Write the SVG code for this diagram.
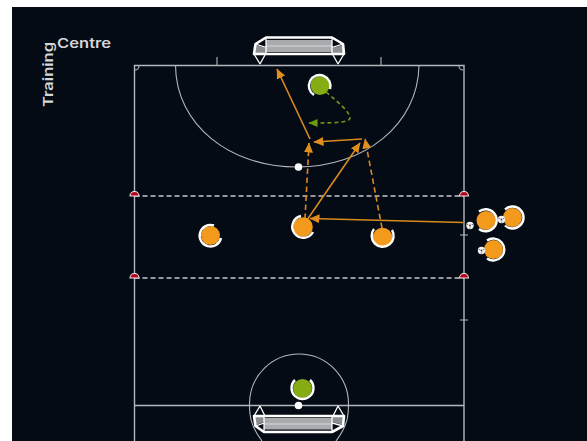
<svg xmlns="http://www.w3.org/2000/svg" width="587" height="441" viewBox="0 0 587 441">
<style>
.l{fill:none;stroke:#b4b7bb;stroke-width:1.4}
.a{fill:none;stroke:#b4b7bb;stroke-width:1.1}
.d{fill:none;stroke:#c4c6c9;stroke-width:1.5;stroke-dasharray:5 3}
.o{fill:none;stroke:#d98a1f;stroke-width:1.6}
.od{fill:none;stroke:#d98a1f;stroke-width:1.6;stroke-dasharray:5.500 3.500}
.g{fill:none;stroke:#6e9a14;stroke-width:1.6;stroke-dasharray:4 3}
.ring{fill:none;stroke:#fff;stroke-width:2.400}
.po{fill:#f39a1c}
.pg{fill:#86ac14}
.t{font-family:"Inter","Liberation Sans",sans-serif;font-weight:600;font-size:13.500px;fill:#d4d6d8}
.net{fill:#a9abae}
.side{fill:#8a8d91}
.gf{fill:none;stroke:#fff;stroke-width:2.600;stroke-linejoin:round}
.gi{fill:none;stroke:#fff;stroke-width:1.300}
.cone{fill:#b8001a;stroke:#e8e8e8;stroke-width:1.100}
.ball{fill:#f2f2f2}
.bd{fill:#4a4d52}
</style>
<defs>
<marker id="ao" markerWidth="11" markerHeight="9" refX="9.500" refY="4.500" orient="auto" markerUnits="userSpaceOnUse"><path d="M0 0L10 4.500L0 9Z" fill="#e08e1e"/></marker>
<marker id="ag" markerWidth="10" markerHeight="9" refX="8.500" refY="4" orient="auto" markerUnits="userSpaceOnUse"><path d="M0 0L9 4L0 8Z" fill="#6e9a14"/></marker>
<g id="b"><circle class="ball" r="3.700"/><circle class="bd" r="1"/><circle class="bd" cx="-2.300" cy="-1" r=".6"/><circle class="bd" cx="2.300" cy="-1" r=".6"/><circle class="bd" cy="2.500" r=".6"/></g>
</defs>
<rect x="12" y="7" width="575" height="434" fill="#050b15"/>
<text class="t" x="57" y="47.500" textLength="54" lengthAdjust="spacingAndGlyphs">Centre</text>
<text class="t" transform="translate(53,107) rotate(-90)" textLength="65" lengthAdjust="spacingAndGlyphs">Training</text>
<g id="pitch">
<path class="l" d="M134.500 441V65.500H464V441M134.500 405.500H464"/>
<path class="a" d="M217 57V65.500M381 57V65.500M460 235H468M460 320H468"/>
<path class="a" d="M175.500 65.500C176 125 230 167 297 167C364 167 418 125 419 65.500"/>
<path class="a" d="M135 70A4 4 0 0 0 139 66M459 66A4 4 0 0 0 463 70"/>
<path class="a" d="M262 441C250 425 249.500 415 249.500 404A49.500 50 0 0 1 348.500 404C348.500 415 348 425 336 441"/>
<path class="d" d="M134.500 196H464M134.500 278H464"/>
</g>
<g id="goal-top">
<path class="side" d="M256 45L266 48V53H255ZM343 45L332 48V53H344Z"/>
<path class="net" d="M266 40H332V45H266ZM266 47H332V52H266Z"/>
<path class="gf" d="M254 54L255.500 44L266 37.500H332L343 44L344 54Z"/>
<path class="gi" d="M255.500 44L266 47.500V54M343 44L332 47.500V54M266 37.500V54M332 37.500V54M266 46H332M254 54L260 64M344 54L338 64M265 55L260 64M333 55L338 64"/>
</g>
<g id="goal-bottom">
<path class="side" d="M256 425L264 422V417H255ZM343 425L332 422V417H344Z"/>
<path class="net" d="M264 418H332V423H264ZM264 425H332V429.500H264Z"/>
<path class="gf" d="M254 416L255.500 426L264 432H332L343 426L344 416Z"/>
<path class="gi" d="M255.500 426L264 423V416M343 426L332 423V416M264 432V416M332 432V416M264 424H332M254 416L260 406M344 416L338 406M265 416L260 406M333 416L338 406"/>
</g>
<g id="cones">
<path class="cone" d="M130 196A4.500 4.500 0 0 1 139 196Z"/>
<path class="cone" d="M459.500 196A4.500 4.500 0 0 1 468.500 196Z"/>
<path class="cone" d="M130 278A4.500 4.500 0 0 1 139 278Z"/>
<path class="cone" d="M459.500 278A4.500 4.500 0 0 1 468.500 278Z"/>
</g>
<g id="spots">
<circle cx="298.500" cy="167" r="3.800" fill="#fff"/>
<circle cx="298.500" cy="405.500" r="3.800" fill="#fff"/>
</g>
<g id="connectors">
<path class="o" marker-end="url(#ao)" d="M310 139L277 69"/>
<path class="o" marker-end="url(#ao)" d="M362 139L314 142"/>
<path class="o" marker-end="url(#ao)" d="M307 220L360 143"/>
<path class="o" marker-end="url(#ao)" d="M463 222.500L310 218.500"/>
<path class="od" marker-end="url(#ao)" d="M305 219L309 143"/>
<path class="od" marker-end="url(#ao)" d="M382 228L365 139"/>
<path class="g" marker-end="url(#ag)" d="M326 92C338 102 350 112 350 118C350 123 330 123 309 123"/>
</g>
<g id="player-gk-top"><circle class="pg" cx="320" cy="85.500" r="9.500"/><path class="ring" d="M314 95A10.800 10.800 0 1 1 330 89"/></g>
<g id="player-gk-bottom"><circle class="pg" cx="302.500" cy="388.500" r="9.500"/><path class="ring" d="M310 380A11 11 0 1 1 295 380"/></g>
<g id="player-1"><circle class="po" cx="210.500" cy="235.500" r="9.500"/><path class="ring" d="M221 238A10.800 10.800 0 1 1 214 225.500"/></g>
<g id="player-2"><circle class="po" cx="303" cy="227" r="9.800"/><path class="ring" d="M301 216A11 11 0 1 0 313 232"/></g>
<g id="player-3"><circle class="po" cx="382.500" cy="237.500" r="9.800"/><path class="ring" d="M374 229A11 11 0 1 0 392 230"/></g>
<g id="player-4"><circle class="po" cx="486" cy="220.500" r="9.500"/><path class="ring" d="M479 211.500A11 11 0 1 1 479 229"/><use href="#b" x="470" y="225.500"/></g>
<g id="player-5"><circle class="po" cx="512.500" cy="217.500" r="9.500"/><path class="ring" d="M505 209.500A11 11 0 1 1 505 225.500"/><use href="#b" x="501.500" y="219.500"/></g>
<g id="player-6"><circle class="po" cx="493.500" cy="249.500" r="9.500"/><path class="ring" d="M487 240.500A11 11 0 1 1 487 258.500"/><use href="#b" x="481.500" y="250.500"/></g>
</svg>
